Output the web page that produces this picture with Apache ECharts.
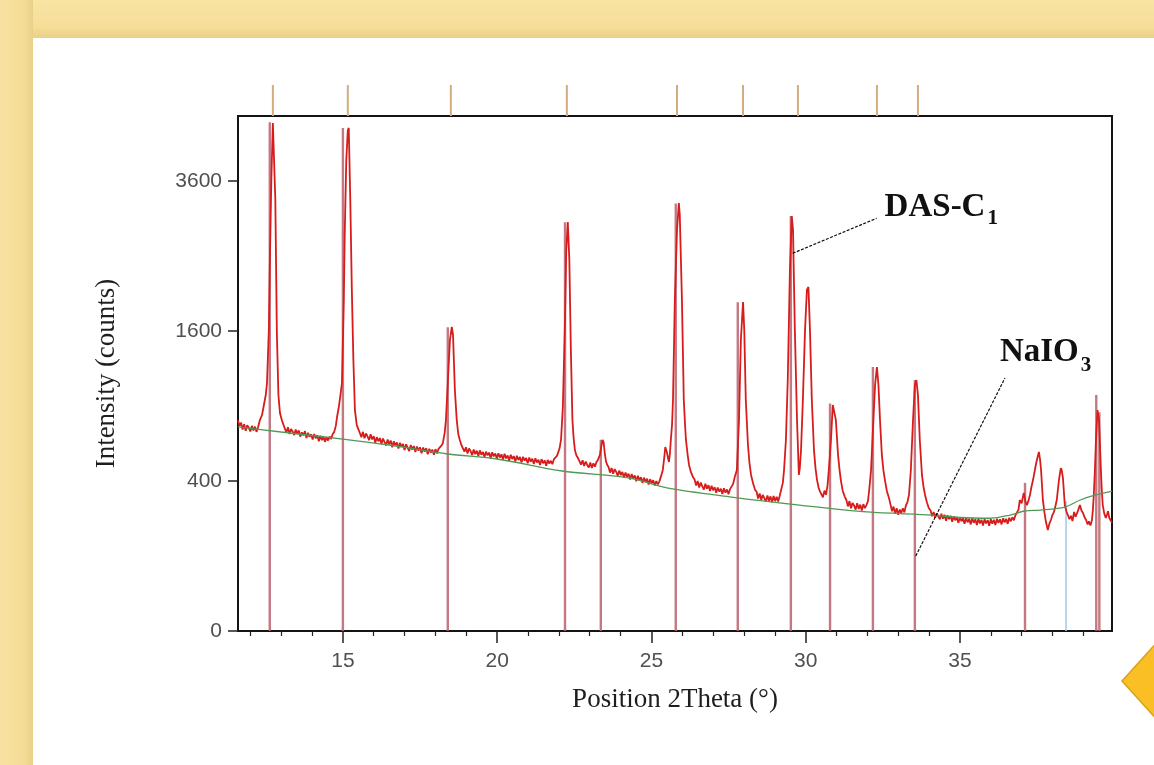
<!DOCTYPE html>
<html><head><meta charset="utf-8">
<script src="https://cdn.jsdelivr.net/npm/echarts@6/dist/echarts.min.js"></script>
<style>
html,body{margin:0;padding:0;}
body{width:1154px;height:765px;position:relative;overflow:hidden;background:#f6dd98;}
#bgTop{position:absolute;left:0;top:0;width:1154px;height:38px;background:linear-gradient(to bottom,#f9e4a4 0%,#f6de99 70%,#e9cf86 100%);}
#bgLeft{position:absolute;left:0;top:0;width:33px;height:765px;background:linear-gradient(to right,#f8e1a0 0%,#f5dc96 75%,#e9cf87 100%);}
#panel{position:absolute;left:33px;top:38px;right:0;bottom:0;background:#ffffff;}
#chart{position:absolute;left:0;top:0;width:1154px;height:765px;}
</style></head>
<body>
<div id="bgTop"></div><div id="bgLeft"></div><div id="panel"></div>
<div id="chart"></div>
<script>
// ---------- DATA (2Theta in degrees, intensity in counts) ----------
const observed = [
[11.60,790],[11.65,748],[11.70,772],[11.75,722],[11.80,760],[11.85,712],[11.90,752],[11.95,735],[12.00,708],[12.05,748],[12.10,715],[12.15,742],[12.20,705],[12.25,738],
[12.31,791],[12.38,830],[12.44,908],[12.50,990],[12.54,1093],[12.60,1610],[12.63,2355],[12.68,3616],[12.73,4588],[12.76,4552],[12.81,3303],[12.86,1579],[12.91,990],[12.96,845],[13.02,791],[13.08,752],
[13.12,745],[13.17,700],[13.22,738],[13.27,690],[13.32,726],[13.37,708],[13.42,682],[13.47,722],[13.52,690],[13.57,715],[13.62,672],[13.67,702],[13.72,680],[13.77,710],[13.82,662],[13.87,698],[13.92,670],[13.97,688],[14.02,652],[14.07,690],[14.12,660],[14.17,682],[14.22,640],[14.27,678],[14.32,648],[14.37,670],[14.42,636],[14.47,668],[14.52,645],[14.57,672],[14.62,655],[14.67,690],[14.72,705],[14.77,748],
[14.81,814],[14.86,880],[14.90,949],[14.97,1093],[15.03,1948],[15.06,2816],[15.11,3944],[15.16,4462],[15.19,4498],[15.24,3303],[15.29,2067],[15.34,1306],[15.39,868],[15.45,754],[15.50,725],
[15.55,712],[15.60,668],[15.65,705],[15.70,660],[15.75,694],[15.80,672],[15.85,648],[15.90,688],[15.95,652],[16.00,675],[16.05,630],[16.10,668],[16.15,640],[16.20,662],[16.25,622],[16.30,658],[16.35,635],[16.40,612],[16.45,652],[16.50,620],[16.55,645],[16.60,600],[16.65,640],[16.70,612],[16.75,632],[16.80,592],[16.85,630],[16.90,605],[16.95,622],[17.00,582],[17.05,620],[17.10,596],[17.15,575],[17.20,615],[17.25,585],[17.30,608],[17.35,570],[17.40,605],[17.45,578],[17.50,600],[17.55,562],[17.60,598],[17.65,572],[17.70,594],[17.75,556],[17.80,590],[17.85,566],[17.90,585],[17.95,552],[18.00,588],[18.05,560],[18.10,590],[18.15,578],[18.20,612],
[18.24,628],[18.30,700],[18.34,791],[18.40,1093],[18.47,1505],[18.53,1643],[18.57,1558],[18.63,1033],[18.69,791],[18.74,690],[18.79,649],[18.84,615],
[18.89,610],[18.94,572],[18.99,600],[19.04,560],[19.09,592],[19.14,575],[19.19,550],[19.24,585],[19.29,556],[19.34,578],[19.39,545],[19.44,580],[19.49,552],[19.54,570],[19.59,538],[19.64,572],[19.69,548],[19.74,566],[19.79,530],[19.84,568],[19.89,542],[19.94,560],[19.99,528],[20.04,562],[20.09,535],[20.14,555],[20.19,522],[20.24,558],[20.29,530],[20.34,548],[20.39,515],[20.44,552],[20.49,526],[20.54,544],[20.59,510],[20.64,546],[20.69,520],[20.74,538],[20.79,505],[20.84,540],[20.89,516],[20.94,532],[20.99,500],[21.04,535],[21.09,510],[21.14,528],[21.19,496],[21.24,530],[21.29,505],[21.34,522],[21.39,490],[21.44,525],[21.49,500],[21.54,518],[21.59,486],[21.64,520],[21.69,498],[21.74,515],[21.79,495],[21.84,525],[21.89,515],[21.94,545],
[21.97,551],[22.02,590],[22.07,649],[22.13,892],[22.20,1720],[22.24,2581],[22.29,2974],[22.34,2447],[22.39,1404],[22.44,791],[22.48,660],[22.52,582],[22.57,548],[22.62,532],
[22.67,520],[22.72,492],[22.77,518],[22.82,484],[22.87,510],[22.92,490],[22.97,475],[23.02,505],[23.07,472],[23.12,500],[23.17,480],[23.22,508],[23.27,522],
[23.33,551],[23.38,610],[23.42,649],[23.45,635],[23.49,560],[23.53,510],[23.57,490],
[23.61,478],[23.66,446],[23.71,472],[23.76,440],[23.81,466],[23.86,450],[23.91,428],[23.96,458],[24.01,432],[24.06,450],[24.11,418],[24.16,446],[24.21,424],[24.26,440],[24.31,408],[24.36,438],[24.41,415],[24.46,430],[24.51,398],[24.56,428],[24.61,405],[24.66,420],[24.71,390],[24.76,418],[24.81,396],[24.86,412],[24.91,382],[24.96,410],[25.01,388],[25.06,404],[25.11,376],[25.16,400],[25.21,382],[25.26,398],[25.31,425],
[25.37,461],[25.42,540],[25.45,602],[25.50,570],[25.54,530],[25.57,508],[25.60,560],[25.63,649],[25.67,760],[25.70,949],[25.76,1948],[25.83,2859],[25.89,3257],[25.92,3077],[25.99,1948],[26.05,949],[26.09,760],[26.12,649],[26.17,560],[26.22,490],[26.28,450],[26.35,420],
[26.40,408],[26.45,376],[26.50,400],[26.55,366],[26.60,392],[26.65,372],[26.70,356],[26.75,386],[26.80,360],[26.85,378],[26.90,348],[26.95,375],[27.00,352],[27.05,368],[27.10,340],[27.15,366],[27.20,345],[27.25,360],[27.30,334],[27.35,362],[27.40,340],[27.45,356],[27.50,332],[27.55,358],[27.60,352],[27.65,385],[27.70,420],
[27.77,461],[27.84,791],[27.90,1505],[27.97,1924],[28.01,1610],[28.06,949],[28.13,615],[28.18,500],[28.23,433],[28.30,385],[28.36,355],
[28.41,345],[28.46,312],[28.51,336],[28.56,305],[28.61,330],[28.66,314],[28.71,298],[28.76,326],[28.81,302],[28.86,322],[28.91,295],[28.96,324],[29.01,300],[29.06,320],[29.11,298],[29.16,325],[29.21,330],[29.26,390],
[29.30,461],[29.36,649],[29.42,1120],[29.49,2317],[29.55,3062],[29.59,2859],[29.65,1610],[29.72,791],[29.78,433],[29.81,470],[29.85,582],[29.91,949],[29.98,1610],[30.04,2067],[30.09,2104],[30.14,1610],[30.20,949],[30.27,582],[30.32,470],[30.37,405],[30.42,365],[30.46,348],
[30.51,340],[30.56,318],[30.61,350],[30.66,330],[30.71,378],[30.75,461],
[30.79,560],[30.82,649],[30.88,908],[30.93,924],[30.98,791],[31.05,551],[31.10,460],[31.14,405],[31.20,350],[31.27,320],
[31.32,305],[31.37,276],[31.42,300],[31.47,268],[31.52,292],[31.57,280],[31.62,262],[31.67,290],[31.72,265],[31.77,284],[31.82,258],[31.87,286],[31.92,268],[31.97,282],[32.02,300],[32.06,353],
[32.12,461],[32.18,718],[32.25,1076],[32.31,1239],[32.36,1076],[32.41,791],[32.47,551],[32.52,460],[32.57,405],[32.63,350],[32.70,315],
[32.75,285],[32.80,255],[32.85,275],[32.90,245],[32.95,268],[33.00,240],[33.05,262],[33.10,248],[33.15,268],[33.20,250],[33.25,280],[33.30,295],[33.35,330],
[33.41,461],[33.48,791],[33.54,1076],[33.59,1120],[33.64,990],[33.70,649],[33.77,433],[33.82,370],[33.87,329],[33.93,295],[33.99,269],
[34.05,258],[34.10,234],[34.15,252],[34.20,228],[34.25,246],[34.30,238],[34.35,222],[34.40,244],[34.45,224],[34.50,240],[34.55,216],[34.60,238],[34.65,222],[34.70,236],[34.75,212],[34.80,234],[34.85,218],[34.90,230],[34.95,208],[35.00,230],[35.05,214],[35.10,226],[35.15,204],[35.20,228],[35.25,210],[35.30,224],[35.35,202],[35.40,226],[35.45,208],[35.50,222],[35.55,200],[35.60,224],[35.65,206],[35.70,220],[35.75,198],[35.80,222],[35.85,206],[35.90,219],[35.95,197],[36.00,222],[36.05,205],[36.10,220],[36.15,200],[36.20,224],[36.25,208],[36.30,222],[36.35,202],[36.40,226],[36.45,210],[36.50,224],[36.55,204],[36.60,228],[36.65,214],[36.70,230],[36.75,218],[36.80,238],[36.85,250],[36.90,262],
[36.94,305],[37.00,290],[37.07,339],[37.12,300],[37.17,282],[37.22,300],[37.27,329],[37.32,370],[37.37,405],[37.46,490],[37.52,540],[37.56,570],[37.60,520],[37.63,461],[37.69,305],[37.74,250],[37.79,211],[37.85,181],[37.90,205],[37.95,219],[38.00,240],[38.05,252],[38.10,280],[38.14,305],[38.21,405],[38.27,472],[38.30,460],[38.34,416],[38.40,282],[38.45,255],[38.50,239],[38.55,222],[38.60,236],[38.65,215],[38.70,252],[38.75,232],[38.79,245],[38.84,262],[38.89,282],[38.94,258],[38.99,248],[39.04,230],[39.09,219],[39.14,202],[39.18,214],[39.23,198],[39.28,219],[39.31,260],[39.34,329],[39.38,480],[39.41,649],[39.46,868],[39.51,791],[39.54,620],[39.57,461],[39.60,350],[39.63,282],[39.68,245],[39.73,227],[39.77,242],[39.80,255],[39.84,228],[39.88,219],[39.93,208]
];
const backgroundCurve = [
[11.60,740],[13.00,704],[15.00,655],[16.50,615],[18.40,557],[20.00,526],[22.10,455],[24.30,416],[25.50,364],[27.60,319],[29.80,282],[32.00,252],[34.10,239],[35.00,229],[36.00,226],[36.60,238],[37.10,256],[37.60,260],[38.40,273],[38.90,305],[39.40,329],[39.93,348]
];
const stickTheta  = [12.63,15.00,18.40,22.20,23.36,25.79,27.80,29.52,30.79,32.18,33.54,37.11,39.42,39.52];
const stickCounts = [4600,4500,1640,2970,650,3250,1920,3060,920,1240,1120,390,990,850];
const blueStickTheta  = [38.44];
const blueStickCounts = [300];
const peakMarkerTheta = [12.73,15.16,18.50,22.26,25.83,27.97,29.75,32.31,33.64];
const xMajorTicks = [15,20,25,30,35];
const xMinorTicks = [12,13,14,16,17,18,19,21,22,23,24,26,27,28,29,31,32,33,34,36,37,38,39];
const yTickCounts = [0,400,1600,3600];
const xRange = [11.6, 39.93];
const yMaxCounts = 4715;
const annotations = [
  {main:'DAS-C', sub:'1', from:[29.58,2536], to:[32.30,3028], dx:8,  dy:-11,  sdy:0},
  {main:'NaIO',  sub:'3', from:[33.57,100],  to:[36.46,1138], dx:-5, dy:-26,  sdy:-12}
];

// ---------- CHART ----------
const sq = v => Math.sqrt(Math.max(v, 0));
const toSqrt = arr => arr.map(p => [p[0], sq(p[1])]);
const chart = echarts.init(document.getElementById('chart'), null, {renderer:'canvas'});

function stickRenderer(color, width) {
  return function (params, api) {
    const x = api.value(0), h = api.value(1);
    const p0 = api.coord([x, 0]);
    const p1 = api.coord([x, h]);
    return {type:'line', shape:{x1:p0[0], y1:p0[1], x2:p1[0], y2:p1[1]},
            style:{stroke:color, lineWidth:width}};
  };
}

const tickFont = {fontFamily:'Liberation Sans, Arial, sans-serif', fontSize:21, color:'#505050'};
const nameFont = {fontFamily:'Liberation Serif, Times New Roman, serif', fontSize:27, color:'#1e1e1e'};

const option = {
  animation:false,
  backgroundColor:'transparent',
  grid:[
    {left:238, right:42, top:116, bottom:134, show:true, borderColor:'#141414', borderWidth:2, backgroundColor:'transparent', containLabel:false},
    {left:238, right:42, top:85, height:31, show:false}
  ],
  xAxis:[
    {type:'value', gridIndex:0, position:'bottom', min:xRange[0], max:xRange[1],
     axisLine:{show:true, lineStyle:{color:'#141414', width:2}},
     axisTick:{show:true, customValues:xMajorTicks, length:12, lineStyle:{color:'#222', width:1.5}},
     axisLabel:{show:true, customValues:xMajorTicks, margin:20, ...tickFont},
     splitLine:{show:false},
     name:'Position 2Theta (°)', nameLocation:'middle', nameGap:55, nameTextStyle:nameFont},
    {type:'value', gridIndex:0, position:'bottom', min:xRange[0], max:xRange[1],
     axisLine:{show:false},
     axisTick:{show:true, customValues:xMinorTicks, length:5, lineStyle:{color:'#222', width:1.2}},
     axisLabel:{show:false}, splitLine:{show:false}},
    {type:'value', gridIndex:1, min:xRange[0], max:xRange[1], show:false}
  ],
  yAxis:[
    {type:'value', gridIndex:0, min:0, max:sq(yMaxCounts),
     axisLine:{show:true, lineStyle:{color:'#141414', width:2}},
     axisTick:{show:true, customValues:yTickCounts.map(sq), length:10, lineStyle:{color:'#222', width:1.5}},
     axisLabel:{show:true, customValues:yTickCounts.map(sq), margin:16, ...tickFont,
                formatter: v => String(Math.round(v*v))},
     splitLine:{show:false},
     name:'Intensity (counts)', nameLocation:'middle', nameGap:118, nameRotate:90, nameTextStyle:nameFont},
    {type:'value', gridIndex:1, min:0, max:1, show:false}
  ],
  series:[
    {type:'custom', name:'reference sticks', xAxisIndex:0, yAxisIndex:0, z:2,
     renderItem: stickRenderer('rgba(186,96,108,0.85)', 2.4),
     data: stickTheta.map((t,i) => [t, sq(stickCounts[i])])},
    {type:'custom', name:'blue stick', xAxisIndex:0, yAxisIndex:0, z:2,
     renderItem: stickRenderer('#a9cbe6', 1.6),
     data: blueStickTheta.map((t,i) => [t, sq(blueStickCounts[i])])},
    {type:'line', name:'observed', xAxisIndex:0, yAxisIndex:0, z:3,
     data: toSqrt(observed), showSymbol:false, symbol:'none', sampling:null,
     lineStyle:{color:'#d81c1c', width:1.8}},
    {type:'line', name:'background', xAxisIndex:0, yAxisIndex:0, z:4,
     data: toSqrt(backgroundCurve), showSymbol:false, symbol:'none', smooth:0.3,
     lineStyle:{color:'#4f9a55', width:1.3}},
    {type:'custom', name:'peak markers', xAxisIndex:2, yAxisIndex:1, z:2,
     renderItem: stickRenderer('#d4ad7c', 2),
     data: peakMarkerTheta.map(t => [t, 1])}
  ]
};
chart.setOption(option);

// annotations anchored in data space
const mctx = document.createElement('canvas').getContext('2d');
const mainFont = 'bold 33px "Liberation Serif", "Times New Roman", serif';
const subFont  = 'bold 21px "Liberation Serif", "Times New Roman", serif';
const graphics = [];
annotations.forEach(a => {
  const p0 = chart.convertToPixel({gridIndex:0}, [a.from[0], sq(a.from[1])]);
  const p1 = chart.convertToPixel({gridIndex:0}, [a.to[0], sq(a.to[1])]);
  graphics.push({type:'line', z:10, shape:{x1:p0[0], y1:p0[1], x2:p1[0], y2:p1[1]},
                 style:{stroke:'#111', lineWidth:1.2, lineDash:[3,1.5]}});
  mctx.font = mainFont;
  const w = mctx.measureText(a.main).width;
  const tx = p1[0] + a.dx, ty = p1[1] + a.dy;
  graphics.push({type:'text', z:10, x:tx, y:ty,
                 style:{text:a.main, font:mainFont, fill:'#111', align:'left', verticalAlign:'middle'}});
  graphics.push({type:'text', z:10, x:tx + w + 2, y:p1[1] + a.sdy,
                 style:{text:a.sub, font:subFont, fill:'#111', align:'left', verticalAlign:'middle'}});
});
// decorative slide diamond at the lower right
graphics.push({type:'polygon', z:1, shape:{points:[[1122,681],[1160,639],[1198,681],[1160,723]]},
               style:{fill:'#fbbf26', stroke:'#d9a21a', lineWidth:1.5}});
chart.setOption({graphic: graphics});
</script>
</body></html>
